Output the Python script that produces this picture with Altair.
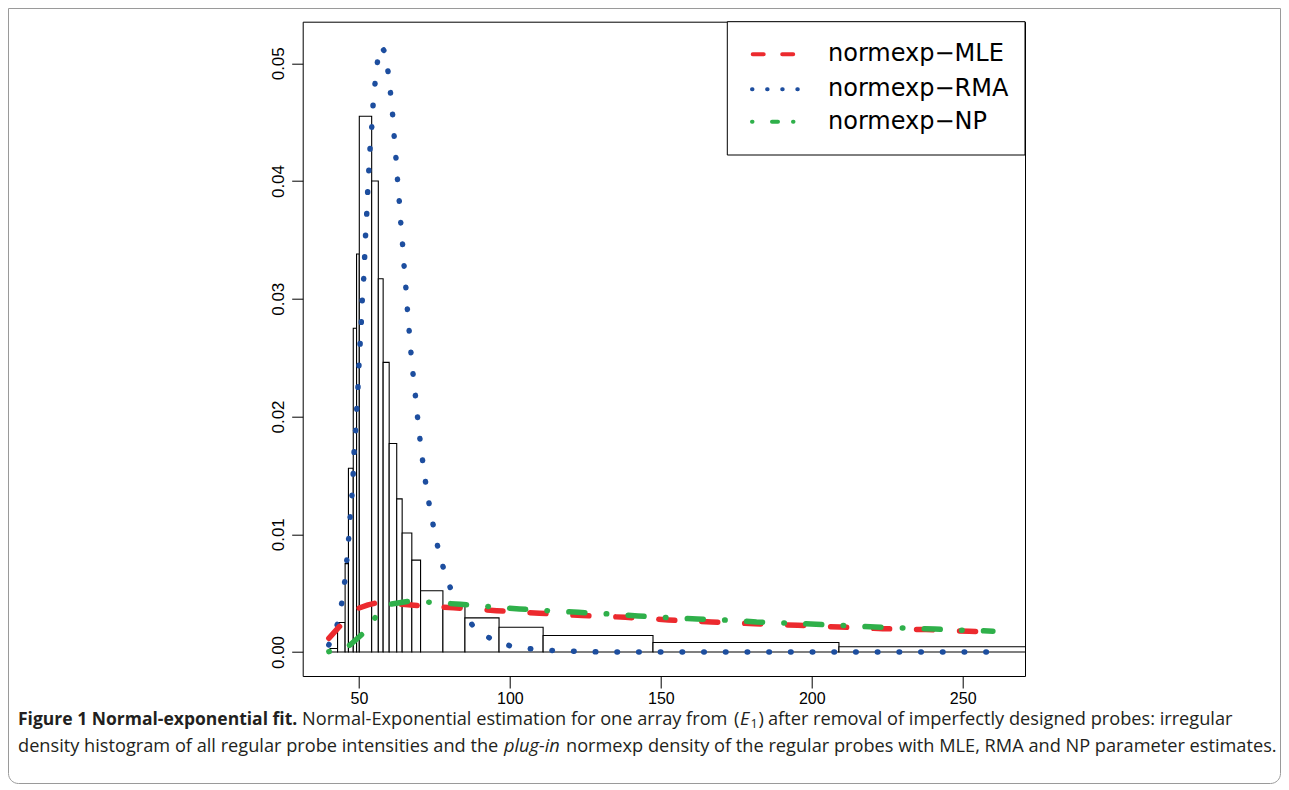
import altair as alt
import pandas as pd

# ---------------- data ----------------
bin_left = [40.4, 42.9, 45.4, 46.5, 48.1, 49.2, 50.1, 54.2, 56.4, 58.0, 60.0,
            62.5, 64.3, 67.5, 70.4, 77.8, 85.1, 96.4, 111.0, 147.4, 209.0]
bin_right = [42.9, 45.4, 46.5, 48.1, 49.2, 50.1, 54.2, 56.4, 58.0, 60.0, 62.5,
             64.3, 67.5, 70.4, 77.8, 85.1, 96.4, 111.0, 147.4, 209.0, 280.0]
bin_density = [0.0003, 0.0025, 0.0075, 0.0156, 0.0275, 0.0338, 0.0455, 0.0400,
               0.0317, 0.0246, 0.0177, 0.0130, 0.0101, 0.0078, 0.0052, 0.0039,
               0.0029, 0.0021, 0.0014, 0.0008, 0.00045]

rma_x = [40.0, 42.9, 44.3, 45.3, 46.0, 46.6, 47.1, 47.7, 48.1, 48.4,
         48.9, 49.3, 49.7, 50.0, 50.4, 50.8, 51.1, 51.6, 51.9, 52.2,
         52.6, 52.9, 53.3, 53.7, 54.3, 54.7, 55.4, 56.2, 57.3, 58.5,
         59.7, 60.5, 61.2, 61.7, 62.3, 62.8, 63.4, 63.9, 64.5, 65.0,
         65.6, 66.1, 66.7, 67.3, 68.0, 68.8, 69.5, 70.3, 71.2, 72.2,
         73.4, 74.8, 76.3, 78.2, 80.6, 83.9, 88.2, 94.2, 100.9, 108.1,
         115.3, 130.0, 260.0]
rma_y = [0.0006, 0.00238, 0.00419, 0.00603, 0.00787, 0.00971, 0.01155, 0.01342, 0.01526, 0.0171,
         0.01894, 0.02081, 0.02265, 0.02449, 0.02633, 0.0282, 0.03004, 0.03188, 0.03372, 0.03556,
         0.0374, 0.03924, 0.04111, 0.04295, 0.04479, 0.04665, 0.0485, 0.05031, 0.05147, 0.05098,
         0.04917, 0.04733, 0.04546, 0.04362, 0.04179, 0.03995, 0.03811, 0.03624, 0.03441, 0.03256,
         0.03073, 0.02886, 0.02702, 0.02518, 0.02335, 0.0215, 0.01967, 0.01784, 0.01599, 0.01416,
         0.01232, 0.01048, 0.00868, 0.00691, 0.00521, 0.00358, 0.00206, 0.00102, 0.00045, 0.00023,
         0.00011, 0.0, 0.0]

mle_x = [40.0, 44.3, 49.8, 53.0, 56.2, 60.0, 64.2, 70.8, 81.3, 95.6, 109.8,
         124.0, 138.3, 152.5, 166.8, 181.1, 195.4, 209.3, 223.5, 237.8, 252.2, 260.0]
mle_y = [0.00116, 0.00238, 0.00371, 0.00400, 0.00419, 0.00420, 0.00405, 0.00391,
         0.00376, 0.00351, 0.00329, 0.00309, 0.00295, 0.00272, 0.00255, 0.00240,
         0.00227, 0.00212, 0.00198, 0.00190, 0.00176, 0.00170]

np_x = [40.0, 44.0, 47.0, 51.4, 55.6, 60.8, 67.2, 75.0, 83.6, 93.3, 103.2, 113.0,
        122.7, 132.6, 142.4, 152.3, 162.0, 171.9, 181.7, 191.6, 201.4, 211.2,
        221.0, 230.9, 240.7, 250.5, 260.0]
np_y = [0.00003, 0.00020, 0.00059, 0.00159, 0.00300, 0.00408, 0.00433, 0.00420,
        0.00405, 0.00385, 0.00365, 0.00350, 0.00337, 0.00323, 0.00306, 0.00292,
        0.00280, 0.00270, 0.00255, 0.00246, 0.00235, 0.00224, 0.00212, 0.00204,
        0.00195, 0.00184, 0.00177]

x_ticks = [50, 100, 150, 200, 250]
y_ticks = [0.0, 0.01, 0.02, 0.03, 0.04, 0.05]

legend_labels = ["normexp\u2212MLE", "normexp\u2212RMA", "normexp\u2212NP"]
red, blue, green = "#EC2A2E", "#1D4E9F", "#2FB04A"

cap1_bold = "Figure 1 Normal-exponential fit."
cap1_a = "Normal-Exponential estimation for one array from"
cap1_open = "("
cap1_E = "E"
cap1_sub = "1"
cap1_close = ")"
cap1_b = "after removal of imperfectly designed probes: irregular"
cap2_a = "density histogram of all regular probe intensities and the"
cap2_it = "plug-in"
cap2_b = "normexp density of the regular probes with MLE, RMA and NP parameter estimates."

# ---------------- geometry (plot area in page px) ----------------
PLOT_L, PLOT_T = 302.7, 21.7
W, H = 722.3, 654.3
TOTAL_W, TOTAL_H = 1273, 776
PAD_L, PAD_T = PLOT_L - 8, PLOT_T - 8


def rx(page_x):
    return page_x - PLOT_L


def ry(page_y):
    return page_y - PLOT_T


xs = alt.Scale(domain=[31.35, 270.64], nice=False, zero=False)
ys = alt.Scale(domain=[-0.00204, 0.05353], nice=False, zero=False)

hist_df = pd.DataFrame({"left": bin_left, "right": bin_right, "density": bin_density})
rma_df = pd.DataFrame({"x": rma_x, "y": rma_y, "i": range(len(rma_x))})
mle_df = pd.DataFrame({"x": mle_x, "y": mle_y, "i": range(len(mle_x))})
np_df = pd.DataFrame({"x": np_x, "y": np_y, "i": range(len(np_x))})
one = pd.DataFrame({"k": [0]})

x_axis = alt.Axis(values=x_ticks, title=None, grid=False, domain=False,
                  tickColor="black", tickSize=12, tickWidth=1,
                  labelFont="Liberation Sans Narrow, Liberation Sans", labelFontSize=16,
                  labelColor="black", labelPadding=2, labelFlush=False)
y_axis = alt.Axis(values=y_ticks, format=".2f", title=None, grid=False, domain=False,
                  tickColor="black", tickSize=11, tickWidth=1,
                  labelFont="Liberation Sans", labelFontSize=17, labelColor="black",
                  labelAngle=270, labelAlign="center", labelBaseline="bottom",
                  labelPadding=4, labelFlush=False)

hist = alt.Chart(hist_df).mark_rect(fill="white", stroke="black", strokeWidth=1.1, clip=True).encode(
    x=alt.X("left:Q", scale=xs, axis=x_axis),
    x2="right:Q",
    y=alt.Y("density:Q", scale=ys, axis=y_axis),
    y2=alt.datum(0),
)


def curve(df, color, dash, width=5.5):
    return alt.Chart(df).mark_line(color=color, strokeWidth=width, strokeDash=dash,
                                   strokeCap="round", strokeJoin="round", clip=True).encode(
        x=alt.X("x:Q", scale=xs),
        y=alt.Y("y:Q", scale=ys),
        order="i:Q",
    )


rma_line = curve(rma_df, blue, [0.5, 21.2])
mle_line = curve(mle_df, red, [16, 27])
np_line = curve(np_df, green, [0.5, 21.4, 16, 21.4])

# legend
leg_box = alt.Chart(one).mark_rect(fill="white", stroke="black", strokeWidth=1).encode(
    x=alt.value(rx(727.3)), x2=alt.value(rx(1025)), y=alt.value(0), y2=alt.value(ry(155)))
leg_rows = [54.3, 89.3, 121.7]
leg_red = alt.Chart(one).mark_rule(color=red, strokeWidth=4, strokeCap="round", strokeDash=[11, 18.5]).encode(
    x=alt.value(rx(752.7)), x2=alt.value(rx(794)), y=alt.value(ry(leg_rows[0])))
leg_blue = alt.Chart(one).mark_rule(color=blue, strokeWidth=4, strokeCap="round", strokeDash=[0.5, 14.6]).encode(
    x=alt.value(rx(752)), x2=alt.value(rx(798)), y=alt.value(ry(leg_rows[1])))
leg_green = alt.Chart(one).mark_rule(color=green, strokeWidth=4, strokeCap="round",
                                     strokeDash=[0.5, 19.5, 6, 15, 0.5, 100]).encode(
    x=alt.value(rx(752)), x2=alt.value(rx(794)), y=alt.value(ry(leg_rows[2])))
leg_text = [
    alt.Chart(one).mark_text(align="left", baseline="middle", font="DejaVu Sans",
                             fontSize=24, color="black").encode(
        x=alt.value(rx(828)), y=alt.value(ry(r)), text=alt.value(lab))
    for lab, r in zip(legend_labels, leg_rows)
]

CAP = 18.2


def txt(s, page_x, page_y, align="left", weight="normal", style="normal", size=CAP):
    return alt.Chart(one).mark_text(align=align, baseline="middle", font="Open Sans",
                                    fontSize=size, fontWeight=weight, fontStyle=style,
                                    color="#231f20").encode(
        x=alt.value(rx(page_x)), y=alt.value(ry(page_y)), text=alt.value(s))


L1, L2 = 720, 747
caption = [
    txt(cap1_bold, 18, L1, weight="bold", size=17.5),
    txt(cap1_a, 302, L1),
    txt(cap1_open, 734, L1),
    txt(cap1_E, 740, L1, style="italic"),
    txt(cap1_sub, 750.5, L1 + 4, size=12.5),
    txt(cap1_close, 758.5, L1),
    txt(cap1_b, 768, L1),
    txt(cap2_a, 18, L2),
    txt(cap2_it, 504, L2, style="italic"),
    txt(cap2_b, 566, L2),
]

frame = alt.Chart(one).mark_rect(fill="white", fillOpacity=0, stroke="#9a9a9a", strokeWidth=1,
                                 cornerRadiusBottomLeft=10, cornerRadiusBottomRight=10).encode(
    x=alt.value(0.5 - PAD_L), x2=alt.value(TOTAL_W - 0.5 - PAD_L),
    y=alt.value(0.5 - PAD_T), y2=alt.value(TOTAL_H - 0.5 - PAD_T))

chart = alt.layer(
    frame, hist, rma_line, mle_line, np_line, leg_box, leg_red, leg_blue, leg_green,
    *leg_text, *caption
).properties(
    width=W, height=H,
    autosize=alt.AutoSizeParams(type="none"),
    padding={"left": PAD_L, "top": PAD_T, "right": TOTAL_W - PAD_L - W, "bottom": TOTAL_H - PAD_T - H},
    background="white",
).configure_view(stroke="black", strokeWidth=1)

chart.save("out.html", embed_options={"renderer": "svg", "actions": False})
